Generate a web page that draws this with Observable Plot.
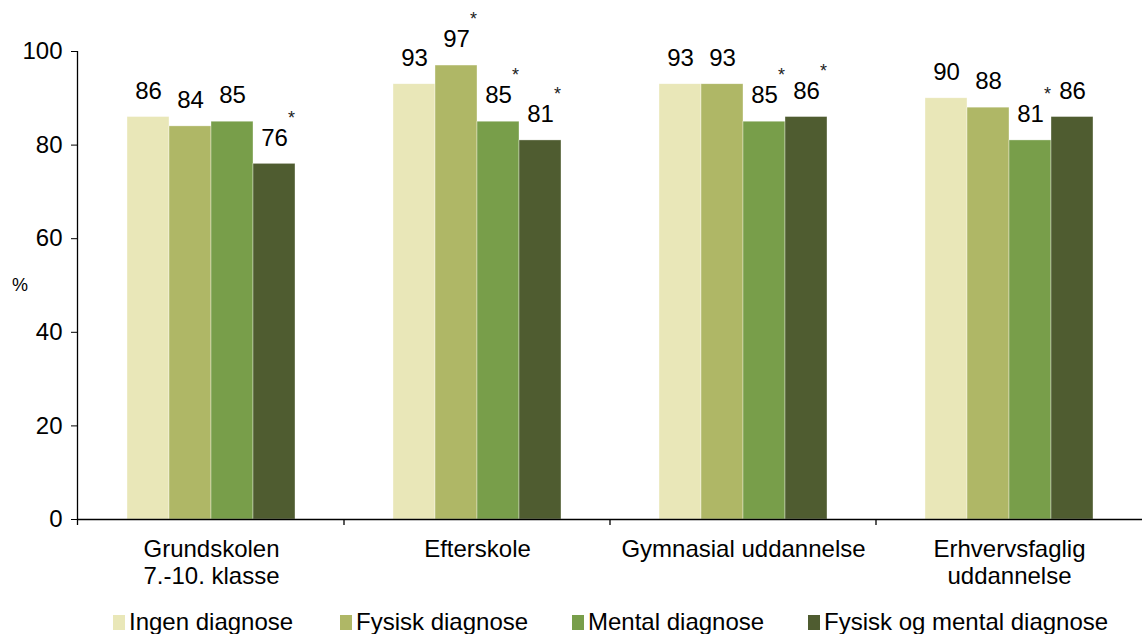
<!DOCTYPE html>
<html>
<head>
<meta charset="utf-8">
<script src="https://cdn.jsdelivr.net/npm/d3@7"></script>
<script src="https://cdn.jsdelivr.net/npm/@observablehq/plot@0.6"></script>
<style>
  html, body { margin: 0; padding: 0; background: #fff; }
  body { width: 1142px; height: 634px; overflow: hidden; font-family: "Liberation Sans", Arial, sans-serif; }
  #chart svg { display: block; }
  #legend { position: relative; height: 34px; font-size: 24px; color: #000; white-space: nowrap; }
  #legend .item { position: absolute; top: 8px; display: flex; align-items: center; }
  #legend .sw { width: 12px; height: 15px; margin-right: 4px; }
</style>
</head>
<body>
<div id="chart"></div>
<div id="legend"></div>
<script>
const categories = ["Grundskolen\n7.-10. klasse", "Efterskole", "Gymnasial uddannelse", "Erhvervsfaglig\nuddannelse"];
const series = ["Ingen diagnose", "Fysisk diagnose", "Mental diagnose", "Fysisk og mental diagnose"];
const colors = ["#E9E7B8", "#AFB766", "#789E4A", "#4F5C30"];
const ingenDiagnose = [86, 93, 93, 90];
const fysiskDiagnose = [84, 97, 93, 88];
const mentalDiagnose = [85, 85, 85, 81];
const fysiskOgMental = [76, 81, 86, 86];
// significance markers (*)
const ingenSig = [false, false, false, false];
const fysiskSig = [false, true, false, false];
const mentalSig = [false, true, true, true];
const fysiskOgMentalSig = [true, true, true, false];
const yTicks = [0, 20, 40, 60, 80, 100];
const legendLefts = [113, 340, 572, 808];

const valuesBySeries = [ingenDiagnose, fysiskDiagnose, mentalDiagnose, fysiskOgMental];
const sigBySeries = [ingenSig, fysiskSig, mentalSig, fysiskOgMentalSig];
const data = [];
categories.forEach((c, ci) => {
  series.forEach((s, si) => {
    data.push({category: c, series: s, value: valuesBySeries[si][ci], sig: sigBySeries[si][ci]});
  });
});

const font = "Liberation Sans, Arial, sans-serif";
const plot = Plot.plot({
  width: 1142,
  height: 600,
  marginLeft: 78,
  marginRight: 0,
  marginTop: 51,
  marginBottom: 81,
  style: {fontFamily: font, fontSize: "24px", color: "#000", background: "#fff", overflow: "visible"},
  fx: {domain: categories, paddingInner: 0, paddingOuter: 0, label: null},
  x: {domain: series, paddingInner: 0, paddingOuter: 1.12, axis: null},
  y: {domain: [0, 100], ticks: yTicks, label: null},
  color: {domain: series, range: colors},
  marks: [
    Plot.barY(data, {fx: "category", x: "series", y: "value", fill: "series", inset: 0, stroke: "#fff", strokeWidth: 0.6, strokeOpacity: 0.6}),
    Plot.text(data, {fx: "category", x: "series", y: "value", text: d => String(d.value), dy: -26, fontSize: 24, fill: "#000"}),
    Plot.text(data.filter(d => d.sig), {fx: "category", x: "series", y: "value", text: () => "*", dx: 17, dy: -46, fontSize: 18, fill: "#222"}),
    Plot.axisY({ticks: yTicks, tickSize: 7, tickPadding: 9, fontSize: 24, label: null}),
    Plot.axisFx({anchor: "bottom", tickSize: 0, tickPadding: 19, fontSize: 24, lineHeight: 1.1, label: null}),
    Plot.ruleY([0], {stroke: "#000", strokeWidth: 1.3})
  ]
});

// y-axis line and separator ticks between groups
const svg = d3.select(plot);
const y = plot.scale("y");
const fx = plot.scale("fx");
const y0 = y.apply(0);
const yTop = y.apply(100);
svg.append("line").attr("x1", 77.5).attr("x2", 77.5).attr("y1", yTop).attr("y2", y0 + 6).attr("stroke", "#000").attr("stroke-width", 1.3);
categories.forEach((c, i) => {
  if (i === 0) return;
  const xb = fx.apply(c) - (fx.step - fx.bandwidth) / 2;
  svg.append("line").attr("x1", xb).attr("x2", xb).attr("y1", y0).attr("y2", y0 + 6).attr("stroke", "#000").attr("stroke-width", 1.3);
});
// % label
svg.append("text").attr("x", 20).attr("y", y.apply(50) + 6).attr("text-anchor", "middle")
  .attr("font-size", 18).attr("fill", "#000").text("%");

document.getElementById("chart").appendChild(plot);

const legend = d3.select("#legend");
series.forEach((s, i) => {
  const item = legend.append("div").attr("class", "item").style("left", legendLefts[i] + "px");
  item.append("div").attr("class", "sw").style("background", colors[i]);
  item.append("span").text(s);
});
</script>
</body>
</html>
